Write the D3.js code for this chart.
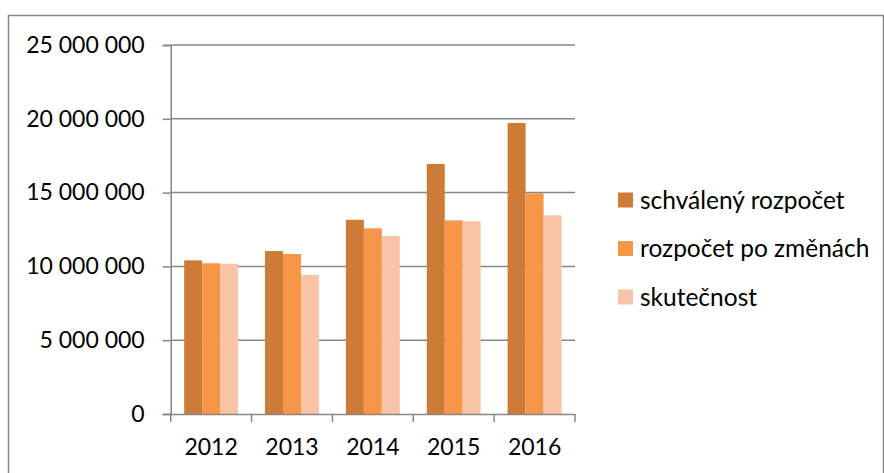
<!DOCTYPE html>
<html>
<head>
<meta charset="utf-8">
<script src="https://cdn.jsdelivr.net/npm/d3@7"></script>
<style>
  body { margin: 0; background: #fff; }
  text { font-family: Lato, "Open Sans", sans-serif; fill: #000; }
</style>
</head>
<body>
<div id="chart"></div>
<script>
var years = ["2012", "2013", "2014", "2015", "2016"];
var seriesNames = ["schválený rozpočet", "rozpočet po změnách", "skutečnost"];
var schvaleny = [10410000, 11040000, 13160000, 16940000, 19720000];
var poZmenach = [10210000, 10840000, 12580000, 13120000, 14950000];
var skutecnost = [10180000, 9420000, 12060000, 13060000, 13460000];
var yTicks = [0, 5000000, 10000000, 15000000, 20000000, 25000000];
var colors = ["#CD7B37", "#F79646", "#F9C3A8"];

var width = 884, height = 473;
var plotLeft = 170.7, plotRight = 575, plotTop = 45, plotBottom = 414;
var gridColor = "#868686";

var series = [schvaleny, poZmenach, skutecnost];

var svg = d3.select("#chart").append("svg")
    .attr("width", width)
    .attr("height", height);

// outer frame
svg.append("rect")
    .attr("x", 8.5)
    .attr("y", 15.5)
    .attr("width", 875)
    .attr("height", 480)
    .style("fill", "none")
    .style("stroke", gridColor)
    .style("stroke-width", 1.5);

var y = d3.scaleLinear()
    .domain([0, 25000000])
    .range([plotBottom, plotTop]);

var x = d3.scaleBand()
    .domain(years)
    .range([plotLeft, plotRight])
    .paddingInner(1/3)
    .paddingOuter(1/6);

var xInner = d3.scaleBand()
    .domain(d3.range(seriesNames.length))
    .range([0, x.bandwidth()]);

var fmt = d3.formatLocale({decimal: ",", thousands: " ", grouping: [3], currency: ["", ""]}).format(",");

// gridlines
svg.append("g")
    .selectAll("line")
    .data(yTicks.slice(1))
    .join("line")
    .attr("x1", plotLeft)
    .attr("x2", plotRight)
    .attr("y1", function(d) { return y(d); })
    .attr("y2", function(d) { return y(d); })
    .style("stroke", gridColor)
    .style("stroke-width", 1.5);

// bars
var groups = svg.append("g")
    .selectAll("g")
    .data(years)
    .join("g")
    .attr("transform", function(d) { return "translate(" + x(d) + ",0)"; });

groups.selectAll("rect")
    .data(function(d, i) { return series.map(function(s, j) { return {k: j, v: s[i]}; }); })
    .join("rect")
    .attr("x", function(d) { return xInner(d.k); })
    .attr("width", xInner.bandwidth())
    .attr("y", function(d) { return y(d.v); })
    .attr("height", function(d) { return y(0) - y(d.v); })
    .style("fill", function(d) { return colors[d.k]; });

// y axis
var yAxis = svg.append("g")
    .attr("transform", "translate(" + plotLeft + ",0)")
    .call(d3.axisLeft(y).tickValues(yTicks).tickSize(8).tickPadding(18).tickFormat(fmt));
yAxis.select(".domain").style("stroke", gridColor).style("stroke-width", 1.5);
yAxis.selectAll(".tick line").style("stroke", gridColor).style("stroke-width", 1.5);
yAxis.selectAll("text").style("font-size", "23px").style("font-family", "Lato, sans-serif").attr("fill", "#000");

// x axis
var xAxis = svg.append("g")
    .attr("transform", "translate(0," + plotBottom + ")")
    .call(d3.axisBottom(x).tickSize(0).tickPadding(25));
xAxis.select(".domain").style("stroke", gridColor).style("stroke-width", 1.5);
xAxis.selectAll("text").style("font-size", "23px").style("font-family", "Lato, sans-serif").attr("fill", "#000");

// category boundary ticks
var bounds = years.map(function(d) { return x(d) - x.step() * x.paddingOuter(); }).concat([plotRight]);
xAxis.append("g")
    .selectAll("line")
    .data(bounds)
    .join("line")
    .attr("x1", function(d) { return d; })
    .attr("x2", function(d) { return d; })
    .attr("y1", 0)
    .attr("y2", 8)
    .style("stroke", gridColor)
    .style("stroke-width", 1.5);

// legend
var legend = svg.append("g")
    .selectAll("g")
    .data(seriesNames)
    .join("g")
    .attr("transform", function(d, i) { return "translate(618," + (200 + i * 48.5) + ")"; });

legend.append("rect")
    .attr("x", 0)
    .attr("y", -7.5)
    .attr("width", 15)
    .attr("height", 15)
    .style("fill", function(d, i) { return colors[i]; });

legend.append("text")
    .attr("x", 22)
    .attr("dy", "0.35em")
    .style("font-size", "24.5px")
    .text(function(d) { return d; });
</script>
</body>
</html>
